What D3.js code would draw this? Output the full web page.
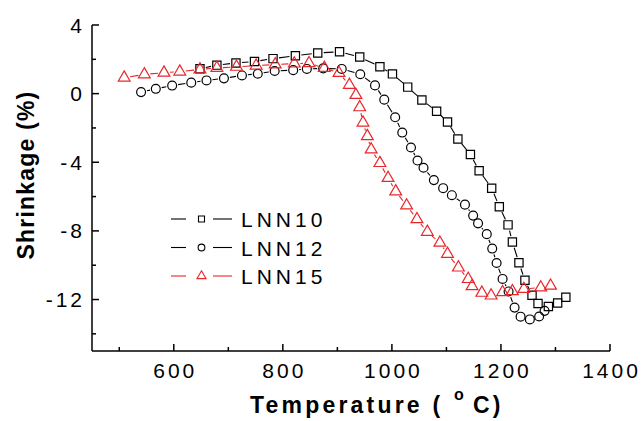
<!DOCTYPE html>
<html>
<head>
<meta charset="utf-8">
<script src="https://cdn.jsdelivr.net/npm/d3@7/dist/d3.min.js"></script>
<style>
  html, body { margin: 0; padding: 0; background: #fff; }
  svg { display: block; font-family: "Liberation Sans", Arial, sans-serif; }
</style>
</head>
<body>
<svg id="chart" width="643" height="421"></svg>
<script>
// Sintering shrinkage curves (dilatometry) for three LNN compositions
const lnn10T = [648, 679, 714, 748, 782, 823, 864, 904, 941, 978, 1001, 1029, 1055, 1082, 1102, 1121, 1144, 1160, 1183, 1197, 1213, 1221, 1233, 1244, 1257, 1268, 1287, 1304, 1319];
const lnn10S = [1.45, 1.66, 1.79, 1.87, 2.04, 2.21, 2.37, 2.44, 2.13, 1.57, 1.15, 0.38, -0.37, -1.03, -1.65, -2.64, -3.55, -4.49, -5.51, -6.59, -7.65, -8.65, -9.86, -10.88, -11.75, -12.23, -12.41, -12.2, -11.87];

const lnn12T = [540, 567, 597, 632, 660, 692, 725, 754, 785, 819, 844, 874, 908, 942, 969, 986, 1006, 1019, 1035, 1047, 1058, 1077, 1094, 1110, 1134, 1149, 1158, 1174, 1184, 1192, 1203, 1214, 1225, 1236, 1253, 1270, 1280];
const lnn12S = [0.09, 0.28, 0.47, 0.64, 0.77, 0.89, 1.06, 1.16, 1.32, 1.37, 1.44, 1.47, 1.44, 1.13, 0.48, -0.35, -1.38, -2.27, -3.14, -3.9, -4.32, -5.04, -5.51, -5.92, -6.47, -7.11, -7.56, -8.19, -9.03, -9.87, -10.8, -11.53, -12.47, -13.0, -13.16, -12.99, -12.66];

const lnn15T = [509, 546, 582, 611, 648, 679, 715, 751, 786, 821, 848, 876, 903, 922, 934, 941, 947, 955, 962, 978, 993, 1007, 1027, 1046, 1065, 1088, 1102, 1122, 1140, 1147, 1165, 1182, 1203, 1221, 1242, 1273, 1291];
const lnn15S = [0.93, 1.12, 1.22, 1.28, 1.41, 1.5, 1.56, 1.63, 1.7, 1.75, 1.77, 1.5, 1.2, 0.51, -0.08, -0.8, -1.69, -2.48, -3.26, -4.05, -4.92, -5.7, -6.52, -7.32, -8.06, -8.69, -9.34, -10.14, -10.81, -11.23, -11.61, -11.77, -11.58, -11.52, -11.39, -11.3, -11.2];

const seriesNames = ["LNN10", "LNN12", "LNN15"];
const seriesColors = ["#000000", "#000000", "#e8262b"];
const seriesSymbols = [d3.symbolSquare, d3.symbolCircle, d3.symbolTriangle];

const xMajorTicks = [600, 800, 1000, 1200, 1400];
const xMinorTicks = [500, 700, 900, 1100, 1300];
const yMajorTicks = [-12, -8, -4, 0, 4];
const yMinorTicks = [-14, -10, -6, -2, 2];

const xTitle = "Temperature (";
const yTitle = "Shrinkage (%)";

const series = [
  { name: seriesNames[0], T: lnn10T, S: lnn10S },
  { name: seriesNames[1], T: lnn12T, S: lnn12S },
  { name: seriesNames[2], T: lnn15T, S: lnn15S }
].map((s, i) => ({
  ...s,
  color: seriesColors[i],
  symbol: seriesSymbols[i],
  points: s.T.map((t, j) => ({ t, s: s.S[j] }))
}));

const svg = d3.select("#chart");
const x = d3.scaleLinear().domain([450, 1400]).range([92, 610]);
const y = d3.scaleLinear().domain([-15, 4]).range([351, 25]);

// Axes: ticks point into the plot area
const axisG = svg.append("g").attr("stroke", "#000").attr("stroke-width", 1.5);
axisG.append("line").attr("x1", x(450)).attr("x2", x(450)).attr("y1", y(4)).attr("y2", y(-15));
axisG.append("line").attr("x1", x(450)).attr("x2", x(1400)).attr("y1", y(-15)).attr("y2", y(-15));

axisG.selectAll(".xmaj").data(xMajorTicks).join("line")
  .attr("x1", d => x(d)).attr("x2", d => x(d)).attr("y1", y(-15)).attr("y2", y(-15) - 7);
axisG.selectAll(".xmin").data(xMinorTicks).join("line")
  .attr("x1", d => x(d)).attr("x2", d => x(d)).attr("y1", y(-15)).attr("y2", y(-15) - 4);
axisG.selectAll(".ymaj").data(yMajorTicks).join("line")
  .attr("y1", d => y(d)).attr("y2", d => y(d)).attr("x1", x(450)).attr("x2", x(450) + 7);
axisG.selectAll(".ymin").data(yMinorTicks).join("line")
  .attr("y1", d => y(d)).attr("y2", d => y(d)).attr("x1", x(450)).attr("x2", x(450) + 4);

const tickFont = 21, tickLs = 3;
svg.append("g").selectAll("text").data(xMajorTicks).join("text")
  .attr("x", d => x(d) + tickLs / 2).attr("y", y(-15) + 27)
  .attr("text-anchor", "middle").attr("font-size", tickFont)
  .attr("letter-spacing", tickLs).text(d => d);
svg.append("g").selectAll("text").data(yMajorTicks).join("text")
  .attr("x", x(450) - 10 + tickLs).attr("y", d => y(d) + 7.5)
  .attr("text-anchor", "end").attr("font-size", tickFont)
  .attr("letter-spacing", tickLs).text(d => d);

// Axis titles
svg.append("text").attr("x", 250).attr("y", 413)
  .attr("font-size", 23).attr("font-weight", "bold").attr("letter-spacing", 3.2)
  .text(xTitle);
svg.append("text").attr("x", 454).attr("y", 400)
  .attr("font-size", 16).attr("font-weight", "bold").text("o");
svg.append("text").attr("x", 473).attr("y", 413)
  .attr("font-size", 23).attr("font-weight", "bold").attr("letter-spacing", 3.2)
  .text("C)");
svg.append("text")
  .attr("transform", "translate(34,175) rotate(-90)")
  .attr("text-anchor", "middle").attr("font-size", 23).attr("font-weight", "bold")
  .attr("letter-spacing", 1.2).text(yTitle);

// Connecting segments leave a small gap around each symbol
const gap = 6;
function trimmedSegments(pts) {
  const segs = [];
  for (let i = 1; i < pts.length; i++) {
    const x1 = x(pts[i - 1].t), y1 = y(pts[i - 1].s);
    const x2 = x(pts[i].t), y2 = y(pts[i].s);
    const len = Math.hypot(x2 - x1, y2 - y1);
    if (len <= 2 * gap + 1) continue;
    const ux = (x2 - x1) / len, uy = (y2 - y1) / len;
    segs.push({ x1: x1 + ux * gap, y1: y1 + uy * gap, x2: x2 - ux * gap, y2: y2 - uy * gap });
  }
  return segs;
}

const symbolSize = { "LNN10": 68, "LNN12": 62, "LNN15": 60 };
const plot = svg.append("g");
series.forEach(s => {
  const g = plot.append("g");
  g.selectAll("line").data(trimmedSegments(s.points)).join("line")
    .attr("x1", d => d.x1).attr("y1", d => d.y1).attr("x2", d => d.x2).attr("y2", d => d.y2)
    .attr("stroke", s.color).attr("stroke-width", 1.1);
  g.selectAll("path").data(s.points).join("path")
    .attr("d", d3.symbol().type(s.symbol).size(symbolSize[s.name]))
    .attr("transform", d => `translate(${x(d.t)},${y(d.s)})`)
    .attr("fill", "none").attr("stroke", s.color).attr("stroke-width", 1.2);
});

// Legend
const legend = svg.append("g");
series.forEach((s, i) => {
  const cy = 219 + i * 28.5;
  const row = legend.append("g");
  row.append("line").attr("x1", 171).attr("x2", 186).attr("y1", cy).attr("y2", cy)
    .attr("stroke", s.color).attr("stroke-width", 1.1);
  row.append("line").attr("x1", 213).attr("x2", 232).attr("y1", cy).attr("y2", cy)
    .attr("stroke", s.color).attr("stroke-width", 1.1);
  row.append("path").attr("d", d3.symbol().type(s.symbol).size(36))
    .attr("transform", `translate(201.5,${cy})`)
    .attr("fill", "none").attr("stroke", s.color).attr("stroke-width", 1.1);
  row.append("text").attr("x", 241).attr("y", cy + 8)
    .attr("font-size", 21).attr("letter-spacing", 4).text(s.name);
});
</script>
</body>
</html>
